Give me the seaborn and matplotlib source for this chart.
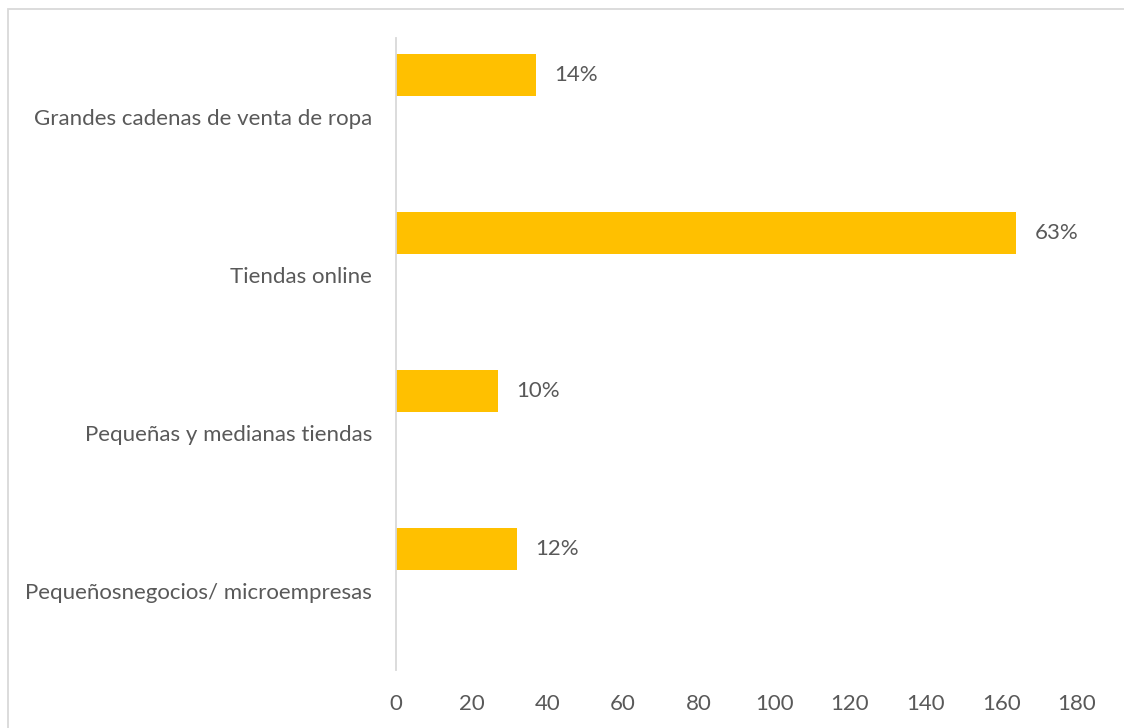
import matplotlib
matplotlib.use("Agg")
import matplotlib.pyplot as plt
import matplotlib.patches as mpatches
import seaborn as sns
import pandas as pd

# Channel categories (top to bottom) and response counts
categories = [
    "Grandes cadenas de venta de ropa",
    "Tiendas online",
    "Pequeñas y medianas tiendas",
    "Pequeñosnegocios/ microempresas",
]
counts = [37, 164, 27, 32]
shares = ["14%", "63%", "10%", "12%"]
x_ticks = [0, 20, 40, 60, 80, 100, 120, 140, 160, 180]

BAR_COLOR = "#FFC000"
TEXT_COLOR = "#595959"
LINE_COLOR = "#D9D9D9"
FS = 16

sns.set_theme(style="white")
plt.rcParams["font.family"] = ["Lato", "DejaVu Sans"]

df = pd.DataFrame({"canal": categories, "n": counts})

fig = plt.figure(figsize=(11.24, 7.28), dpi=100)
ax = fig.add_axes([0.3523, 0.0797, 0.6059, 0.8681])

bar_h = 0.266
sns.barplot(data=df, y="canal", x="n", color=BAR_COLOR, width=bar_h,
            orient="h", ax=ax, saturation=1)

# bars sit in the upper half of each category band
for p in ax.patches:
    p.set_y(p.get_y() - bar_h)
    p.set_edgecolor("none")

ax.set_xlim(0, 180)
ax.set_ylim(len(categories) - 0.5, -0.5)
ax.set_xticks(x_ticks)
ax.set_xticklabels([str(t) for t in x_ticks])
ax.set_xlabel("")
ax.set_ylabel("")

for s in ["top", "right", "bottom"]:
    ax.spines[s].set_visible(False)
ax.spines["left"].set_color(LINE_COLOR)
ax.spines["left"].set_linewidth(1.3)

ax.tick_params(axis="x", length=0, pad=17, labelsize=FS, labelcolor=TEXT_COLOR)
ax.tick_params(axis="y", length=0, pad=17, labelsize=FS, labelcolor=TEXT_COLOR)

for i, (v, lab) in enumerate(zip(counts, shares)):
    ax.text(v + 4.7, i - bar_h, lab, va="center", ha="left",
            fontsize=FS, color=TEXT_COLOR)

# light frame around the chart area
fig.patches.append(mpatches.Rectangle(
    (8 / 1124, -0.05), 1.2, 1 - 9 / 728 + 0.05, transform=fig.transFigure,
    fill=False, edgecolor=LINE_COLOR, linewidth=1.3))

fig.savefig("out.png", dpi=100, facecolor="white")
